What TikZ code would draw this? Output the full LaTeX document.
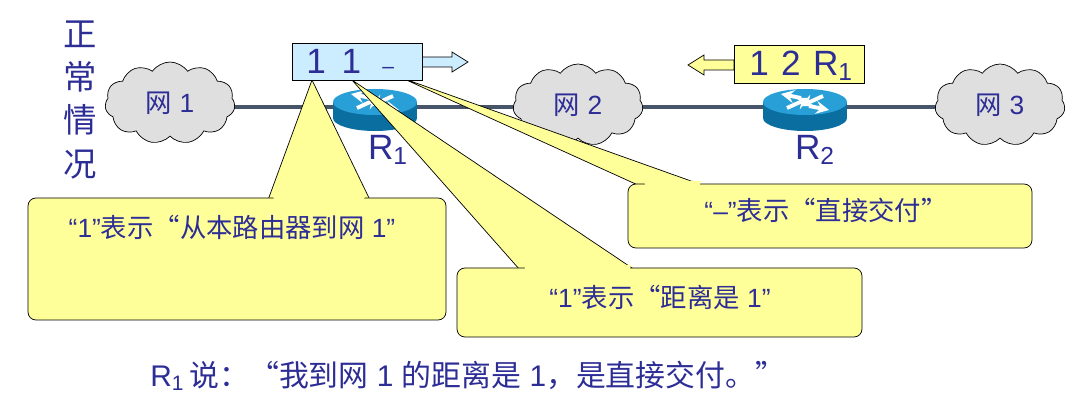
\documentclass[tikz,border=0pt]{standalone}
\usepackage{fontspec}
\setmainfont{Liberation Sans}
\newfontfamily\cjk{Noto Sans CJK SC}
\usetikzlibrary{shapes.symbols}
\definecolor{tx}{RGB}{45,45,150}
\definecolor{cy}{RGB}{255,255,153}
\definecolor{lb}{RGB}{204,236,255}
\definecolor{ln}{RGB}{70,85,105}
\definecolor{rt}{RGB}{40,160,215}
\definecolor{rb}{RGB}{10,110,160}
\newlength\pxu \setlength\pxu{0.02cm}
\tikzset{
 cl/.style={cloud,cloud puffs=11,cloud puff arc=110,aspect=1.6,draw=black,fill=gray!25,minimum width=130\pxu,minimum height=82\pxu,text=tx,font=\fontsize{15}{15}\selectfont},
 call/.style={draw=black,fill=cy,rounded corners=8\pxu},
 ptr/.style={draw=black,fill=cy},
 t/.style={text=tx,font=\fontsize{15}{18}\selectfont,inner sep=0},
}
\newcommand\router[2]{%
 \fill[rb] (#1,#2+8) ellipse[x radius=42,y radius=13];
 \fill[rb] (#1-42,#2-8) rectangle (#1+42,#2+8);
 \fill[rt] (#1,#2-8) ellipse[x radius=42,y radius=13];
 \draw[white,line width=2.2pt,->,>=stealth] (#1-18,#2-2) -- (#1+4,#2-12);
 \draw[white,line width=2.2pt,->,>=stealth] (#1+18,#2-14) -- (#1-4,#2-4);
 \draw[white,line width=2.2pt,->,>=stealth] (#1-4,#2-12) -- (#1-24,#2-16);
 \draw[white,line width=2.2pt,->,>=stealth] (#1+4,#2-4) -- (#1+24,#2);
}
\begin{document}
\begin{tikzpicture}[x=0.02cm,y=-0.02cm]
\useasboundingbox (0,0) rectangle (1086,405);
\draw[ln,line width=2pt] (120,107) -- (1040,107);
\node[cl] (n1) at (170,103) {{\cjk 网} 1};
\node[cl] (n2) at (578,105) {{\cjk 网} 2};
\node[cl] (n3) at (1000,105) {{\cjk 网} 3};
\router{375}{110}
\router{805}{110}
\node[t] (r1) at (388,150) {\fontsize{20}{20}\selectfont R\textsubscript{1}};
\node[t] (r2) at (815,150) {\fontsize{20}{20}\selectfont R\textsubscript{2}};
\node[t,align=center,font=\cjk\fontsize{19}{24.5}\selectfont] (lab) at (80,100) {正\\常\\情\\况};
% arrows
\draw[fill=lb] (422,57) -- (452,57) -- (452,52) -- (468,62) -- (452,72) -- (452,67) -- (422,67) -- cycle;
\draw[fill=cy] (734,60) -- (704,60) -- (704,55) -- (688,65) -- (704,75) -- (704,70) -- (734,70) -- cycle;
% pointers
\coordinate (p1) at (312,80);
\coordinate (p2) at (352,80);
\coordinate (p3) at (402,78);
\draw[ptr] (p1) -- (268,200) -- (370,200) -- cycle;
\draw[ptr] (p2) -- (520,270) -- (635,270) -- cycle;
\draw[ptr] (p3) -- (640,186) -- (705,186) -- cycle;
\node[call,minimum width=418\pxu,minimum height=122\pxu] (c1) at (237,259) {};
\node[call,minimum width=405\pxu,minimum height=69\pxu] (c2) at (659.5,302.5) {};
\node[call,minimum width=404\pxu,minimum height=64\pxu] (c3) at (830,216) {};
\fill[cy] (272,195) -- (366,195) -- (362,202) -- (276,202) -- cycle;
\fill[cy] (524,265) -- (631,265) -- (629,272) -- (526,272) -- cycle;
\fill[cy] (644,181) -- (701,181) -- (699,188) -- (646,188) -- cycle;
\node[t] at (232,227) {“1”{\cjk 表示“从本路由器到网} 1”};
\node[t] at (660,297) {“1”{\cjk 表示“距离是} 1”};
\node[t] at (826,210) {“–”{\cjk 表示“直接交付”}};
% boxes
\node[draw=black,fill=lb,minimum width=130\pxu,minimum height=37\pxu,inner sep=0] (b1) at (357,61.5) {};
\node[t,anchor=west,font=\fontsize{20}{20}\selectfont] at (306,61) {1\hspace{9pt}1\hspace{12pt}{\fontsize{12}{12}\selectfont –}};
\node[draw=black,fill=cy,minimum width=130\pxu,minimum height=38\pxu,inner sep=0] (b2) at (799,64) {};
\node[t,anchor=west,font=\fontsize{20}{20}\selectfont] at (749,66) {1\hspace{7pt}2\hspace{7pt}R\textsubscript{1}};
\node[t,anchor=west] at (150,376) {\fontsize{17}{17}\selectfont R\textsubscript{1}\,{\cjk 说：“我到网} 1 {\cjk 的距离是} 1{\cjk ，是直接交付。”}};
\end{tikzpicture}
\end{document}
